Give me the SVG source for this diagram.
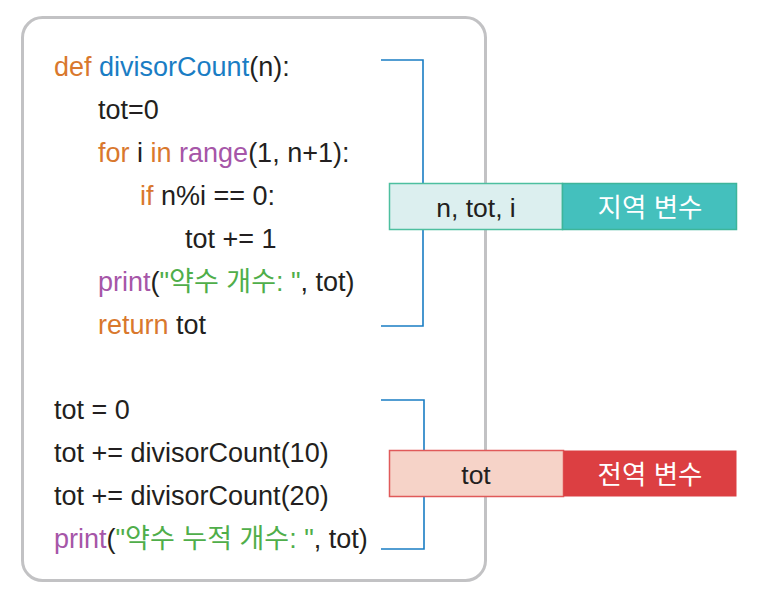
<svg xmlns="http://www.w3.org/2000/svg" width="757" height="601" viewBox="0 0 757 601">
<style>
.code{font-family:"Liberation Sans","Noto Sans CJK KR",sans-serif;font-size:27px;fill:#231f20}
.kw{fill:#d9782d}
.fn{fill:#1a7dc4}
.bi{fill:#a656a8}
.st{fill:#4fae4a}
.lbl{font-family:"Liberation Sans","Noto Sans CJK KR",sans-serif;font-size:26.5px;text-anchor:middle}
.br{fill:none;stroke:#1a7dc4;stroke-width:1.6}
</style>
<rect width="757" height="601" fill="#ffffff"/>
<rect id="frame" x="22.5" y="17.5" width="463" height="563" rx="20" ry="20" fill="#ffffff" stroke="#c2c2c4" stroke-width="3"/>
<g id="code-func" class="code">
<text x="54" y="76"><tspan class="kw">def</tspan> <tspan class="fn">divisorCount</tspan>(n):</text>
<text x="98" y="119">tot=0</text>
<text x="98" y="162"><tspan class="kw">for</tspan> i <tspan class="kw">in</tspan> <tspan class="bi">range</tspan>(1, n+1):</text>
<text x="140" y="205"><tspan class="kw">if</tspan> n%i == 0:</text>
<text x="185" y="248">tot += 1</text>
<text x="98" y="291"><tspan class="bi">print</tspan>(<tspan class="st">"약수 개수: "</tspan>, tot)</text>
<text x="98" y="334"><tspan class="kw">return</tspan> tot</text>
</g>
<g id="code-main" class="code">
<text x="54" y="419">tot = 0</text>
<text x="54" y="462">tot += divisorCount(10)</text>
<text x="54" y="505">tot += divisorCount(20)</text>
<text x="54" y="548"><tspan class="bi">print</tspan>(<tspan class="st">"약수 누적 개수: "</tspan>, tot)</text>
</g>
<g id="connectors">
<polyline class="br" points="381,60 423,60 423,326 381,326"/>
<polyline class="br" points="381,400 424,400 424,549 381,549"/>
</g>
<g id="local-vars">
<rect x="389.5" y="183.5" width="173" height="46" fill="#dcefef" stroke="#4dbf9f" stroke-width="1.5"/>
<rect x="562.5" y="183.5" width="174" height="46" fill="#44c0bd" stroke="#3db59a" stroke-width="1.5"/>
<text class="lbl" x="476" y="217" fill="#231f20">n, tot, i</text>
<text class="lbl" x="650" y="217" fill="#ffffff">지역 변수</text>
</g>
<g id="global-vars">
<rect x="389.5" y="450.5" width="174" height="46" fill="#f6d3c8" stroke="#e05a5a" stroke-width="1.5"/>
<rect x="563.5" y="450.5" width="173" height="46" fill="#dc3f42"/>
<text class="lbl" x="476" y="484" fill="#231f20">tot</text>
<text class="lbl" x="650" y="484" fill="#ffffff">전역 변수</text>
</g>
</svg>
